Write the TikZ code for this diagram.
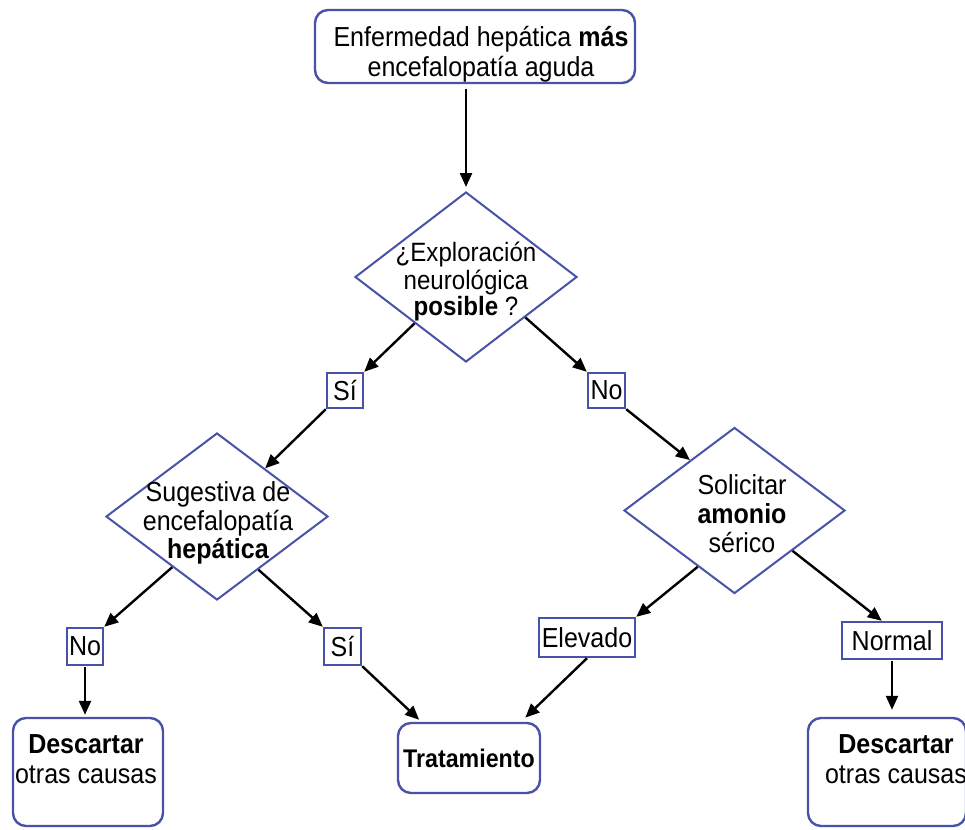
\documentclass[tikz,border=0pt]{standalone}
\usepackage{fontspec}
\setmainfont[FakeStretch=0.91]{Liberation Sans}
\usetikzlibrary{shapes.geometric,arrows.meta,calc}
\definecolor{blueC}{RGB}{72,82,168}
\begin{document}
\begin{tikzpicture}[x=1pt,y=-1pt,
  bx/.style={draw=blueC,line width=2.4pt,rounded corners=13pt,inner sep=0pt},
  dia/.style={diamond,draw=blueC,line width=2pt,inner sep=0pt},
  lab/.style={draw=blueC,line width=2.4pt,inner sep=0pt,font=\fontsize{27.5}{28}\selectfont},
  txt/.style={align=center,inner sep=0pt},
  arr/.style={line width=2.4pt,-{Triangle[length=14pt,width=12pt]}}]
\useasboundingbox (0,0) rectangle (965,829);

% top box
\node[bx,minimum width=320pt,minimum height=73pt] (top) at (475,46.5) {};
\node[txt,font=\fontsize{27.5}{28}\selectfont] (topT) at (481,55.4)
  {\strut Enfermedad hepática \textbf{más}\\ encefalopatía aguda\strut};

% diamonds
\node[dia,minimum width=222pt,minimum height=170pt] (d1) at (466,277) {};
\node[txt,font=\fontsize{26.5}{26}\selectfont] (d1T) at (466,282.8)
  {\strut ¿Exploración\\neurológica\\ \textbf{posible} ?\strut};

\node[dia,minimum width=222pt,minimum height=167pt] (d2) at (217,516.5) {};
\node[txt,font=\fontsize{27.5}{28}\selectfont] (d2T) at (218,524.4)
  {\strut Sugestiva de\\encefalopatía\\\textbf{hepática}\strut};

\node[dia,minimum width=221pt,minimum height=166pt] (d3) at (734.5,510.5) {};
\node[txt,font=\fontsize{27.5}{29}\selectfont] (d3T) at (742,517.2)
  {\strut Solicitar\\\textbf{amonio}\\sérico\strut};

% labels
\node[lab,minimum width=36pt,minimum height=35pt] (s1) at (345,390.5) {Sí};
\node[lab,minimum width=37pt,minimum height=35pt] (n1) at (606.5,390.5) {No};
\node[lab,minimum width=36pt,minimum height=37pt] (n2) at (85,646.5) {No};
\node[lab,minimum width=37pt,minimum height=37pt] (s2) at (342.5,646.5) {Sí};
\node[lab,minimum width=96pt,minimum height=39pt] (elev) at (587,637.5) {Elevado};
\node[lab,minimum width=100pt,minimum height=37pt] (norm) at (892,640.5) {Normal};

% bottom boxes
\node[bx,minimum width=150pt,minimum height=108pt] (desc1) at (88,772) {};
\node[txt,font=\fontsize{27.5}{30}\selectfont] (desc1T) at (86,762)
  {\strut\textbf{Descartar}\\otras causas\strut};
\node[bx,minimum width=142pt,minimum height=70pt,font=\fontsize{25.5}{28}\selectfont] (trat) at (469,758) {\textbf{Tratamiento}};
\node[bx,minimum width=158pt,minimum height=108pt] (desc2) at (887,772) {};
\node[txt,font=\fontsize{27.5}{30}\selectfont] (desc2T) at (896,762)
  {\strut\textbf{Descartar}\\otras causas\strut};

% connectors
\draw[arr,shorten <=5pt,shorten >=4pt] (d1.north |- top.south) -- (d1.north);
\draw[arr] ($(d1.west)!0.54!(d1.south)$) -- (s1.north east);
\draw[arr] ($(d1.south)!0.53!(d1.east)$) -- (n1.north west);
\draw[arr] (s1.south west) -- ($(d2.north)!0.43!(d2.east)$);
\draw[arr] (n1.south east) -- ($(d3.west)!0.6!(d3.north)$);
\draw[arr] ($(d2.west)!0.6!(d2.south)$) -- (n2.north east);
\draw[arr] ($(d2.south)!0.37!(d2.east)$) -- (s2.north west);
\draw[arr,shorten <=1pt,shorten >=2pt] (n2.south) -- (n2.south |- desc1.north);
\draw[arr,shorten >=3pt] (s2.south east) -- ($(trat.north west)!0.17!(trat.north east)$);
\draw[arr,shorten >=6pt] (elev.south) -- ($(trat.north west)!0.86!(trat.north east)$);
\draw[arr] ($(d3.west)!0.67!(d3.south)$) -- (elev.north east);
\draw[arr] ($(d3.south)!0.52!(d3.east)$) -- ($(norm.north west)!0.4!(norm.north east)$);
\draw[arr,shorten <=1pt,shorten >=7pt] (norm.south) -- (norm.south |- desc2.north);
\end{tikzpicture}
\end{document}
